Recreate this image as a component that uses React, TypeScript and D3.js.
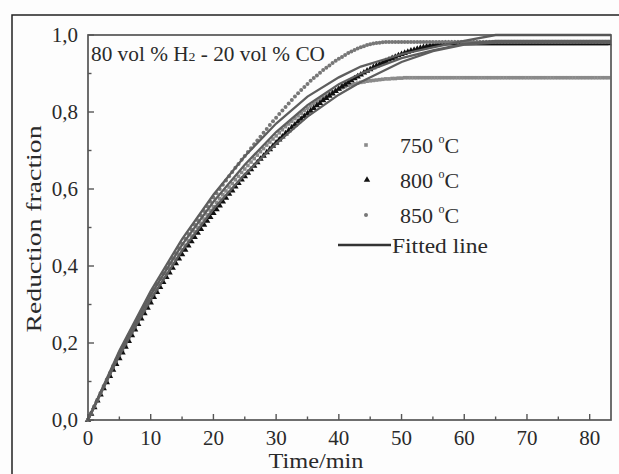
import React from "react";
import * as d3 from "d3";

// ---- data (reduction fraction vs time, sampled every 0.5 min) ----
const STEP = 0.5;
const s750 = [
  0, .017, .034, .051, .068, .084, .1, .117, .133, .149, .165, .181, .196, .212, .227, .242, .256, .271, .285, .299,
  .313, .327, .34, .354, .367, .38, .393, .406, .418, .43, .442, .454, .466, .478, .489, .5, .511, .522, .533, .544,
  .554, .565, .575, .585, .595, .605, .614, .624, .633, .643, .652, .661, .67, .679, .688, .697, .705, .714, .722, .73,
  .738, .746, .754, .762, .769, .776, .783, .79, .797, .804, .81, .816, .822, .828, .833, .838, .843, .848, .852, .856,
  .86, .863, .866, .869, .871, .873, .875, .877, .878, .88, .881, .882, .883, .884, .885, .886, .886, .887, .887, .888,
  .888, .889,
  .889, .889, .889, .889, .889, .889, .889, .889, .889, .889, .889, .889, .889, .889, .889, .889, .889, .889, .889, .889,
  .889, .889, .889, .889, .889, .889, .889, .889, .889, .889, .889, .889, .889, .889, .889, .889, .889, .889, .889, .889,
  .889, .889, .889, .889, .889, .889, .889, .889, .889, .889, .889, .889, .889, .889, .889, .889, .889, .889, .889, .889,
  .889, .889, .889, .889, .889,
];
const s800 = [
  0, .016, .033, .05, .066, .082, .098, .114, .13, .145, .16, .175, .19, .205, .22, .235, .249, .263, .277, .291,
  .305, .319, .332, .345, .358, .371, .383, .395, .407, .419, .43, .442, .453, .464, .475, .486, .496, .507, .517, .527,
  .537, .547, .557, .567, .577, .587, .596, .606, .615, .624, .633, .642, .651, .66, .669, .678, .686, .695, .703, .712,
  .72, .728, .736, .744, .752, .76, .767, .775, .782, .789, .796, .803, .81, .817, .823, .83, .836, .842, .848, .854,
  .86, .866, .871, .877, .882, .887, .892, .897, .902, .907, .911, .916, .92, .924, .928, .932, .936, .94, .943, .947,
  .95, .953, .956, .959, .961, .964, .966, .968, .97, .972, .973, .975, .976, .977, .978, .978,
  .978, .978, .978, .978, .978, .978, .978, .978, .978, .978, .978, .978, .978, .978, .978, .978, .978, .978, .978, .978,
  .978, .978, .978, .978, .978, .978, .978, .978, .978, .978, .978, .978, .978, .978, .978, .978, .978, .978, .978, .978,
  .978, .978, .978, .978, .978, .978, .978, .978, .978, .978, .978,
];
const s850 = [
  0, .017, .035, .052, .07, .088, .105, .122, .14, .156, .172, .188, .204, .22, .235, .25, .265, .28, .295, .31,
  .324, .338, .352, .366, .38, .394, .407, .42, .433, .446, .458, .471, .483, .495, .507, .519, .531, .543, .555, .567,
  .578, .589, .6, .611, .622, .633, .644, .655, .665, .676, .686, .696, .706, .716, .726, .736, .746, .756, .766, .776,
  .785, .795, .804, .813, .822, .831, .84, .849, .857, .865, .873, .881, .888, .895, .902, .909, .915, .921, .927, .933,
  .938, .943, .948, .953, .957, .961, .965, .968, .971, .974, .976, .978, .979, .98, .981, .982,
  .982, .982, .982, .982, .982, .982, .982, .982, .982, .982, .982, .982, .982, .982, .982, .982, .982, .982, .982, .982,
  .982, .982, .982, .982, .982, .982, .982, .982, .982, .982, .982, .982, .982, .982, .982, .982, .982, .982, .982, .982,
  .982, .982, .982, .982, .982, .982, .982, .982, .982, .982, .982, .982, .982, .982, .982, .982, .982, .982, .982, .982,
  .982, .982, .982, .982, .982, .982, .982, .982, .982, .982, .982,
];

const fitTime = [0, 5, 10, 15, 20, 25, 30, 35, 40, 43.5, 50, 55, 60, 65, 83.4];
const fit1 = [0, .18, .335, .47, .585, .685, .77, .84, .89, .918, .95, .968, .985, 1.0, 1.0];
const fit2 = [0, .175, .325, .455, .567, .663, .748, .818, .872, .9, .94, .96, .977, .985, .985];
const fit3 = [0, .168, .313, .44, .548, .638, .718, .788, .845, .878, .93, .958, .975, .98, .98];

const xTicks = [0, 10, 20, 30, 40, 50, 60, 70, 80];
const xMinor = [5, 15, 25, 35, 45, 55, 65, 75];
const yTicks = [0, 0.2, 0.4, 0.6, 0.8, 1.0];
const yMinor = [0.1, 0.3, 0.5, 0.7, 0.9];
const legendLabels = ["750", "800", "850"];

const W = 619, H = 474;
const L = 88, R = 611, T = 35, B = 420;
const FONT = "'Liberation Serif', 'Times New Roman', serif";
const TXT = "#2a2a2a";
const AX = "#555";

export default function App() {
  const x = d3.scaleLinear().domain([0, 83.4]).range([L, R]);
  const y = d3.scaleLinear().domain([0, 1]).range([B, T]);
  const fmt = (v: number) => v.toFixed(1).replace(".", ",");
  const pts = (arr: number[]) => arr.map((v, i) => [i * STEP, v] as [number, number]);
  const line = d3.line<[number, number]>().x(d => x(d[0])).y(d => y(d[1]));
  const fits = [fit1, fit2, fit3].map(f => f.map((v, i) => [fitTime[i], v] as [number, number]));
  const tri = d3.symbol().type(d3.symbolTriangle).size(18)() as string;

  return (
    <svg width={W} height={H} style={{ position: "absolute", left: 0, top: 0, background: "#fdfdfd" }}
      fontFamily={FONT}>
      <rect x={0} y={0} width={W} height={H} fill="#fdfdfd" />
      {/* outer frame */}
      <rect x={12} y={15} width={W + 20} height={H + 20} fill="none" stroke="#222" strokeWidth={1.5} />

      {/* data markers */}
      <g fill="#8a8a8a">
        {pts(s750).map((d, i) => (
          <rect key={i} x={x(d[0]) - 1.8} y={y(d[1]) - 1.8} width={3.6} height={3.6} />
        ))}
      </g>
      <g fill="#111">
        {pts(s800).map((d, i) => (
          <path key={i} d={tri} transform={`translate(${x(d[0])},${y(d[1])})`} />
        ))}
      </g>
      <g fill="#777">
        {pts(s850).map((d, i) => (
          <circle key={i} cx={x(d[0])} cy={y(d[1])} r={2} />
        ))}
      </g>

      {/* fitted lines */}
      <g fill="none" stroke="#5e5e5e" strokeWidth={2.3}>
        {fits.map((f, i) => <path key={i} d={line(f) as string} />)}
      </g>

      {/* plot box */}
      <rect x={L} y={T} width={R - L} height={B - T} fill="none" stroke={AX} strokeWidth={1.7} />

      {/* ticks */}
      <g stroke={AX} strokeWidth={1.4}>
        {xTicks.map(t => <line key={t} x1={x(t)} x2={x(t)} y1={B} y2={B - 6} />)}
        {xMinor.map(t => <line key={t} x1={x(t)} x2={x(t)} y1={B} y2={B - 3.5} />)}
        {yTicks.map(t => <line key={t} x1={L} x2={L + 6} y1={y(t)} y2={y(t)} />)}
        {yMinor.map(t => <line key={t} x1={L} x2={L + 3.5} y1={y(t)} y2={y(t)} />)}
      </g>
      <g fill={TXT} fontSize={21} textAnchor="middle">
        {xTicks.map(t => <text key={t} x={x(t)} y={445}>{t}</text>)}
      </g>
      <g fill={TXT} fontSize={21} textAnchor="end">
        {yTicks.map(t => <text key={t} x={78} y={y(t) + 7}>{fmt(t)}</text>)}
      </g>

      {/* axis titles */}
      <text x={316} y={468} fill={TXT} fontSize={20} textAnchor="middle" textLength={95} lengthAdjust="spacingAndGlyphs">Time/min</text>
      <text transform={`translate(41,229) rotate(-90)`} fill={TXT} fontSize={21} textAnchor="middle"
        textLength={207} lengthAdjust="spacingAndGlyphs">Reduction fraction</text>

      {/* annotation */}
      <text x={91} y={61} fill={TXT} fontSize={20} textLength={234} lengthAdjust="spacingAndGlyphs">
        80 vol % H<tspan fontSize={13}>2</tspan> - 20 vol % CO
      </text>

      {/* legend */}
      <g fill={TXT} fontSize={22}>
        <rect x={366 - 1.8} y={145 - 1.8} width={3.6} height={3.6} fill="#8a8a8a" />
        <path d={tri} transform="translate(367,180)" fill="#111" />
        <circle cx={366} cy={215} r={2} fill="#777" />
        {legendLabels.map((lab, i) => (
          <text key={lab} x={400} y={153 + i * 35}>
            {lab} <tspan fontSize={12} dy={-10}>o</tspan><tspan dy={10}>C</tspan>
          </text>
        ))}
        <line x1={338} x2={391} y1={245} y2={245} stroke="#333" strokeWidth={2.6} />
        <text x={392} y={253} textLength={96} lengthAdjust="spacingAndGlyphs">Fitted line</text>
      </g>
    </svg>
  );
}
